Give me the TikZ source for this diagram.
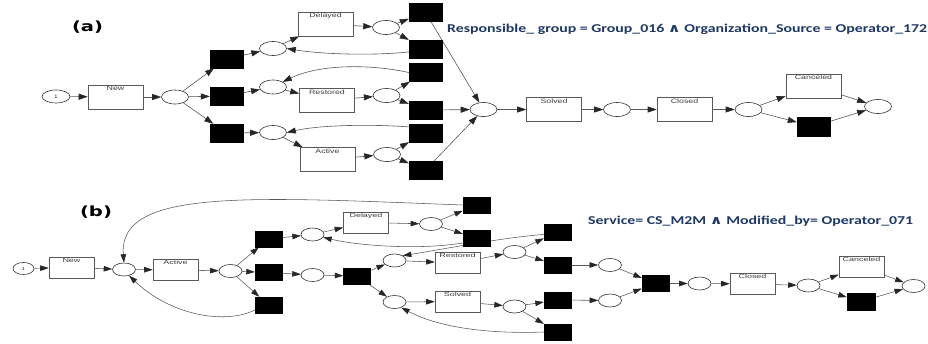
\documentclass[tikz,border=0pt]{standalone}
\usepackage{fontspec}
\setmainfont{Liberation Sans}
\newfontfamily\lab{Liberation Sans}
\newfontfamily\calfont{Carlito}
\newfontfamily\djv{DejaVu Sans}
\usetikzlibrary{shapes.geometric,arrows.meta}
\definecolor{hdnavy}{RGB}{31,56,100}
\pgfdeclarelayer{bg}
\pgfdeclarelayer{paper}
\pgfsetlayers{paper,bg,main}
\newcommand{\alab}[1]{\scalebox{1.4}[1]{\fontsize{6.3}{7}\lab #1}}
\newcommand{\blab}[1]{\scalebox{1.55}[1]{\fontsize{5.8}{7}\lab #1}}
\tikzset{
  pl/.style={ellipse, draw=black!80, fill=white, line width=0.6pt, inner sep=0pt},
  apl/.style={pl, minimum width=27pt, minimum height=14pt},
  bpl/.style={pl, minimum width=23pt, minimum height=13pt},
  tr/.style={rectangle, draw=black!65, fill=white, line width=0.6pt, inner sep=0pt},
  atr/.style={tr, minimum width=55pt, minimum height=24pt},
  btr/.style={tr, minimum width=45pt, minimum height=21pt},
  blk/.style={rectangle, fill=black, draw=black, inner sep=0pt},
  ablk/.style={blk, minimum width=33pt, minimum height=18pt},
  bblk/.style={blk, minimum width=27pt, minimum height=16pt},
  lblA/.style={anchor=north, inner sep=1.3pt, text=black!75},
  lblB/.style={anchor=north, inner sep=1.2pt, text=black!75},
  arrA/.style={draw=black!65, line width=0.6pt, -{Triangle[length=9pt,width=6pt,color=black!85]}},
  arrB/.style={draw=black!65, line width=0.55pt, -{Triangle[length=8.5pt,width=5.5pt,color=black!85]}}
}
\begin{document}
\begin{tikzpicture}[x=1pt,y=-1pt]
\begin{pgfonlayer}{paper}
\fill[white] (0,0) rectangle (928,343);
\end{pgfonlayer}
\useasboundingbox (0,0) rectangle (928,343);

% ---------------- (a) ----------------
\node[inner sep=0pt] (ta) at (87.5,27.5) {\resizebox{31pt}{\height}{\fontsize{14}{16}\djv\bfseries (a)}};
\node[anchor=base west, inner sep=0pt, text=hdnavy] (ca) at (447,32.7) {\resizebox{480pt}{\height}{\fontsize{12}{14}\calfont\bfseries Responsible\_ group = Group\_016 {\djv ∧} Organization\_Source = Operator\_172}};

\node[apl, minimum width=28pt, minimum height=13pt] (a1) at (56,96.5) {\fontsize{5}{6}\lab 1};
\node[atr, label={[lblA]north:\alab{New}}] (aNew) at (115.5,97) {};
\node[apl] (aP0) at (175,97) {};
\node[ablk] (aT1) at (226.5,59) {};
\node[ablk] (aT2) at (226.5,96) {};
\node[ablk] (aT3) at (226.5,133) {};
\node[apl] (aPD) at (273,48.5) {};
\node[apl] (aPR) at (273,87) {};
\node[apl] (aPA) at (273,132.5) {};
\node[atr, label={[lblA]north:\alab{Delayed}}] (aDel) at (325.5,24) {};
\node[atr, label={[lblA]north:\alab{Restored}}] (aRes) at (327,100.5) {};
\node[atr, label={[lblA]north:\alab{Active}}] (aAct) at (327.5,159.5) {};
\node[apl] (aPD2) at (386,27.5) {};
\node[apl] (aPR2) at (386.5,95.5) {};
\node[apl] (aPA2) at (387,154.5) {};
\node[ablk] (aTD1) at (425.5,12.5) {};
\node[ablk] (aTD2) at (425.5,49) {};
\node[ablk] (aTR1) at (425.5,72.5) {};
\node[ablk] (aTR2) at (425.5,110) {};
\node[ablk] (aTA1) at (425.5,133) {};
\node[ablk] (aTA2) at (425.5,170) {};
\node[apl] (aPM) at (483.5,109.5) {};
\node[atr, label={[lblA]north:\alab{Solved}}] (aSol) at (554,109.5) {};
\node[apl] (aP5) at (617,109.5) {};
\node[atr, label={[lblA]north:\alab{Closed}}] (aClo) at (684.5,109.5) {};
\node[apl] (aP6) at (748.5,109.5) {};
\node[atr, label={[lblA]north:\alab{Canceled}}] (aCan) at (813.5,86) {};
\node[ablk, minimum height=19pt] (aTX) at (813.5,126.5) {};
\node[apl] (aPF) at (878,106.5) {};

% ---------------- (b) ----------------
\node[inner sep=0pt] (tb) at (96,212.5) {\resizebox{32pt}{\height}{\fontsize{14}{16}\djv\bfseries (b)}};
\node[anchor=base west, inner sep=0pt, text=hdnavy] (cb) at (588,224) {\resizebox{325pt}{\height}{\fontsize{12}{14}\calfont\bfseries Service= CS\_M2M {\djv ∧} Modified\_by= Operator\_071}};

\node[bpl, minimum width=21pt, minimum height=12pt] (b1) at (23.5,268.5) {\fontsize{4.5}{5}\lab 1};
\node[btr, label={[lblB]north:\blab{New}}] (bNew) at (71.5,267.5) {};
\node[bpl] (bP0) at (124,269.5) {};
\node[btr, label={[lblB]north:\blab{Active}}] (bAct) at (175.5,270) {};
\node[bpl] (bP1) at (230.5,271) {};
\node[bblk] (bT1) at (268.5,239) {};
\node[bblk] (bT2) at (268.5,272.5) {};
\node[bblk] (bT3) at (268.5,305) {};
\node[bpl] (bPD) at (312.5,234.5) {};
\node[bpl] (bPM) at (312.5,275) {};
\node[btr, label={[lblB]north:\blab{Delayed}}] (bDel) at (366,222.5) {};
\node[bpl] (bPD2) at (431,224) {};
\node[bblk] (bTD1) at (476.5,205) {};
\node[bblk] (bTD2) at (476.5,238) {};
\node[bblk] (bTM) at (357,276) {};
\node[bpl] (bPR) at (394.5,260.5) {};
\node[bpl] (bPS) at (394.5,302) {};
\node[btr, label={[lblB]north:\blab{Restored}}] (bRes) at (457.5,263) {};
\node[btr, label={[lblB]north:\blab{Solved}}] (bSol) at (457.5,301.5) {};
\node[bpl] (bPR2) at (514.5,252) {};
\node[bpl] (bPS2) at (514.5,306.5) {};
\node[bblk] (bTR1) at (557.5,232) {};
\node[bblk] (bTR2) at (557.5,265) {};
\node[bblk] (bTS1) at (557.5,300) {};
\node[bblk] (bTS2) at (557.5,332) {};
\node[bpl] (bPF1) at (610,265) {};
\node[bpl] (bPF2) at (610,300.5) {};
\node[bblk] (bTJ) at (655.5,283.5) {};
\node[bpl] (bP5) at (699.5,283.5) {};
\node[btr, label={[lblB]north:\blab{Closed}}] (bClo) at (752.5,284) {};
\node[bpl] (bP6) at (808.5,285.5) {};
\node[btr, label={[lblB]north:\blab{Canceled}}] (bCan) at (861.5,266.5) {};
\node[bblk, minimum width=28pt, minimum height=17pt] (bTX) at (861,301.5) {};
\node[bpl] (bPF) at (913.5,286) {};

\begin{pgfonlayer}{bg}
% (a) arcs
\draw[arrA] (a1) -- (aNew);
\draw[arrA] (aNew) -- (aP0);
\draw[arrA] (aP0) -- (aT1);
\draw[arrA] (aP0) -- (aT2);
\draw[arrA] (aP0) -- (aT3);
\draw[arrA] (aT1) -- (aPD);
\draw[arrA] (aT2) -- (aPR);
\draw[arrA] (aT3) -- (aPA);
\draw[arrA] (aPD) -- (aDel);
\draw[arrA] (aPR) -- (aRes);
\draw[arrA] (aPA) -- (aAct);
\draw[arrA] (aDel) -- (aPD2);
\draw[arrA] (aRes) -- (aPR2);
\draw[arrA] (aAct) -- (aPA2);
\draw[arrA] (aPD2) -- (aTD1);
\draw[arrA] (aPD2) -- (aTD2);
\draw[arrA] (aPR2) -- (aTR1);
\draw[arrA] (aPR2) -- (aTR2);
\draw[arrA] (aPA2) -- (aTA1);
\draw[arrA] (aPA2) -- (aTA2);
\draw[arrA] (aTD2.190) .. controls (370,56) and (320,54) .. (aPD.east);
\draw[arrA] (aTR1.west) .. controls (370,64) and (320,64) .. (aPR.north east);
\draw[arrA] (aTA1.160) .. controls (370,124) and (320,125) .. (aPA.east);
\draw[arrA] (aTD1) -- (aPM);
\draw[arrA] (aTR2) -- (aPM);
\draw[arrA] (aTA2) -- (aPM);
\draw[arrA] (aPM) -- (aSol);
\draw[arrA] (aSol) -- (aP5);
\draw[arrA] (aP5) -- (aClo);
\draw[arrA] (aClo) -- (aP6);
\draw[arrA] (aP6) -- (aCan);
\draw[arrA] (aP6) -- (aTX);
\draw[arrA] (aCan) -- (aPF);
\draw[arrA] (aTX) -- (aPF);
% (b) arcs
\draw[arrB] (b1) -- (bNew);
\draw[arrB] (bNew) -- (bP0);
\draw[arrB] (bP0) -- (bAct);
\draw[arrB] (bAct) -- (bP1);
\draw[arrB] (bP1) -- (bT1);
\draw[arrB] (bP1) -- (bT2);
\draw[arrB] (bP1) -- (bT3);
\draw[arrB] (bT3.200) .. controls (225,325) and (170,315) .. (bP0.-50);
\draw[arrB] (bTD1.west) .. controls (250,197) and (118,188) .. (bP0.north);
\draw[arrB] (bT1) -- (bPD);
\draw[arrB] (bPD) -- (bDel);
\draw[arrB] (bDel) -- (bPD2);
\draw[arrB] (bPD2) -- (bTD1);
\draw[arrB] (bPD2) -- (bTD2);
\draw[arrB] (bTD2.200) .. controls (420,250) and (360,246) .. (bPD.-15);
\draw[arrB] (bT2) -- (bPM);
\draw[arrB] (bPM) -- (bTM);
\draw[arrB] (bTM) -- (bPR);
\draw[arrB] (bTM) -- (bPS);
\draw[arrB] (bPR) -- (bRes);
\draw[arrB] (bRes) -- (bPR2);
\draw[arrB] (bPR2) -- (bTR1);
\draw[arrB] (bPR2) -- (bTR2);
\draw[arrB] (bTR1.190) .. controls (500,238) and (450,248) .. (bPR.30);
\draw[arrB] (bPS) -- (bSol);
\draw[arrB] (bSol) -- (bPS2);
\draw[arrB] (bPS2) -- (bTS1);
\draw[arrB] (bPS2) -- (bTS2);
\draw[arrB] (bTS2.west) .. controls (490,334) and (440,328) .. (bPS.-40);
\draw[arrB] (bTR2) -- (bPF1);
\draw[arrB] (bTS1) -- (bPF2);
\draw[arrB] (bPF1) -- (bTJ);
\draw[arrB] (bPF2) -- (bTJ);
\draw[arrB] (bTJ) -- (bP5);
\draw[arrB] (bP5) -- (bClo);
\draw[arrB] (bClo) -- (bP6);
\draw[arrB] (bP6) -- (bCan);
\draw[arrB] (bP6) -- (bTX);
\draw[arrB] (bCan) -- (bPF);
\draw[arrB] (bTX) -- (bPF);
\end{pgfonlayer}
\end{tikzpicture}
\end{document}
